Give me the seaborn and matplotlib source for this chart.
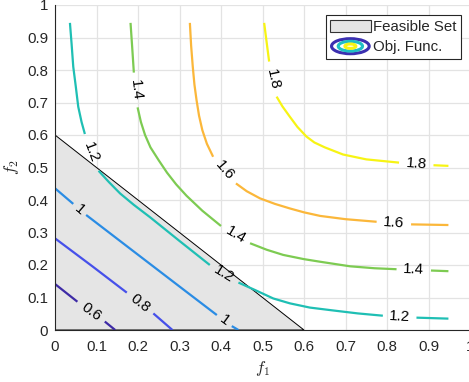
import math
import pandas as pd
import matplotlib
matplotlib.use("Agg")
import matplotlib.pyplot as plt
import seaborn as sns
from matplotlib.patches import Patch, Ellipse
from matplotlib.legend_handler import HandlerBase
from matplotlib.ticker import FuncFormatter

# contour levels of the objective function and the colours they are drawn with
levels = [0.6, 0.8, 1.0, 1.2, 1.4, 1.6, 1.8]
level_text = ["0.6", "0.8", "1", "1.2", "1.4", "1.6", "1.8"]
level_colors = ["#3e2ba6", "#4650ea", "#2a8ce4", "#1fbfb4", "#7dcb52", "#fbb73a", "#f7f414"]

# traced contour pieces (x list, y list); a label sits in the gap between pieces
c06 = [([0.0, 0.054], [0.1415, 0.087]),
       ([0.12, 0.145], [0.026, 0.0])]
c08 = [([0.0, 0.09, 0.173], [0.282, 0.196, 0.115]),
       ([0.237, 0.283], [0.051, 0.0])]
c10 = [([0.0, 0.044], [0.436, 0.388]),
       ([0.075, 0.173, 0.309, 0.39], [0.354, 0.258, 0.125, 0.046]),
       ([0.426, 0.442], [0.012, 0.0])]
c12 = [([0.036, 0.04, 0.044, 0.05, 0.056, 0.064, 0.072],
        [0.945, 0.88, 0.81, 0.75, 0.687, 0.64, 0.603]),
       ([0.105, 0.13, 0.157, 0.19, 0.229, 0.30, 0.373],
        [0.49, 0.455, 0.42, 0.385, 0.347, 0.274, 0.2]),
       ([0.442, 0.482, 0.526, 0.566, 0.614, 0.671, 0.73, 0.79],
        [0.146, 0.123, 0.097, 0.082, 0.069, 0.06, 0.051, 0.044]),
       ([0.871, 0.948], [0.038, 0.035])]
c14 = [([0.182, 0.186, 0.19], [0.945, 0.87, 0.792]),
       ([0.199, 0.207, 0.217, 0.23, 0.25, 0.27, 0.292, 0.317, 0.355, 0.4],
        [0.685, 0.64, 0.6, 0.562, 0.522, 0.484, 0.448, 0.413, 0.367, 0.32]),
       ([0.47, 0.51, 0.55, 0.6, 0.639, 0.711, 0.77, 0.823],
        [0.267, 0.247, 0.231, 0.218, 0.21, 0.196, 0.19, 0.187]),
       ([0.906, 0.948], [0.183, 0.181])]
c16 = [([0.325, 0.328, 0.332, 0.336, 0.341, 0.347, 0.355, 0.366, 0.381],
        [0.945, 0.875, 0.81, 0.755, 0.708, 0.66, 0.615, 0.573, 0.533]),
       ([0.436, 0.462, 0.494, 0.53, 0.566, 0.6, 0.639, 0.7, 0.775],
        [0.451, 0.427, 0.405, 0.388, 0.374, 0.362, 0.351, 0.341, 0.333]),
       ([0.858, 0.948], [0.325, 0.323])]
c18 = [([0.504, 0.51, 0.516], [0.945, 0.885, 0.826]),
       ([0.534, 0.548, 0.566, 0.584, 0.606, 0.625, 0.65, 0.694, 0.75, 0.829],
        [0.718, 0.688, 0.656, 0.625, 0.595, 0.577, 0.562, 0.54, 0.525, 0.515]),
       ([0.912, 0.948], [0.507, 0.505])]
contours = [c06, c08, c10, c12, c14, c16, c18]

# feasible set: triangle f1 + f2 <= 0.6
feasible_x = [0.0, 0.6, 0.0]
feasible_y = [0.0, 0.0, 0.6]

ticks = [0, 0.1, 0.2, 0.3, 0.4, 0.5, 0.6, 0.7, 0.8, 0.9, 1.0]

rows = []
for lvl, pieces in zip(levels, contours):
    for k, (xs, ys) in enumerate(pieces):
        for x, y in zip(xs, ys):
            rows.append({"level": lvl, "piece": f"{lvl}-{k}", "x": x, "y": y})
df = pd.DataFrame(rows)


class RingsHandler(HandlerBase):
    # concentric ellipses like the MATLAB contour legend icon
    def create_artists(self, legend, orig_handle, xdescent, ydescent,
                       width, height, fontsize, trans):
        cx = width / 2 - xdescent
        cy = height / 2 - ydescent
        out = []
        for frac, col in [(0.93, "#3b2fb0"), (0.6, "#1fbfc4"), (0.27, "#f7f414")]:
            out.append(Ellipse((cx, cy), width * frac, height * 1.3 * frac,
                               fill=False, edgecolor=col, lw=2.2, transform=trans))
        return out


sns.set_style("white")
plt.rcParams["font.family"] = ["Liberation Sans", "DejaVu Sans"]
plt.rcParams["mathtext.fontset"] = "cm"

fig = plt.figure(figsize=(4.69, 3.82), dpi=100)
ax = fig.add_axes([55 / 469, 52 / 382, 415 / 469, 325 / 382])
ax.set_xlim(0, 1)
ax.set_ylim(0, 1)

ax.fill(feasible_x, feasible_y, facecolor="#e5e5e5", edgecolor="black", lw=0.7, zorder=1)

sns.lineplot(data=df, x="x", y="y", hue="level", units="piece", estimator=None, sort=False,
             palette=dict(zip(levels, level_colors)), lw=1.6, legend=False, ax=ax, zorder=2,
             solid_joinstyle="round", solid_capstyle="butt")

# inline labels in the gaps, rotated along the line
for txt, pieces in zip(level_text, contours):
    for a, b in zip(pieces[:-1], pieces[1:]):
        x0, y0 = a[0][-1], a[1][-1]
        x1, y1 = b[0][0], b[1][0]
        p0 = ax.transData.transform((x0, y0))
        p1 = ax.transData.transform((x1, y1))
        ang = math.degrees(math.atan2(p1[1] - p0[1], p1[0] - p0[0]))
        if ang > 90:
            ang -= 180
        elif ang < -90:
            ang += 180
        ax.text((x0 + x1) / 2, (y0 + y1) / 2, txt, rotation=ang, rotation_mode="anchor",
                ha="center", va="center", fontsize=10.8, color="black", zorder=3)

ax.set_xticks(ticks)
ax.set_yticks(ticks)
fmt = FuncFormatter(lambda v, p: f"{v:g}")
ax.xaxis.set_major_formatter(fmt)
ax.yaxis.set_major_formatter(fmt)
ax.grid(True, color="#e3e3e3", lw=0.9)
ax.set_axisbelow(True)
ax.tick_params(direction="in", length=3.5, width=0.8, color="#262626", labelcolor="#262626",
               labelsize=10.8)
ax.tick_params(axis="x", pad=7.5)
ax.tick_params(axis="y", pad=5)
for s in ["top", "right"]:
    ax.spines[s].set_visible(False)
for s in ["left", "bottom"]:
    ax.spines[s].set_color("#262626")
    ax.spines[s].set_linewidth(0.8)

ax.set_xlabel(r"$f_1$", fontsize=12, labelpad=3)
ax.set_ylabel(r"$f_2$", fontsize=12, labelpad=4)

handles = [Patch(facecolor="#e5e5e5", edgecolor="#333333", lw=0.8), object()]
leg = ax.legend(handles, ["Feasible Set", "Obj. Func."],
                handler_map={object: RingsHandler()},
                loc="upper right", bbox_to_anchor=(0.978, 0.969), borderaxespad=0,
                fontsize=10.8, handlelength=2.7, handleheight=0.9, handletextpad=0.15,
                borderpad=0.3, labelspacing=0.4, fancybox=False, framealpha=1,
                edgecolor="#262626")
leg.get_frame().set_linewidth(0.8)

fig.savefig("out.png", dpi=100)
